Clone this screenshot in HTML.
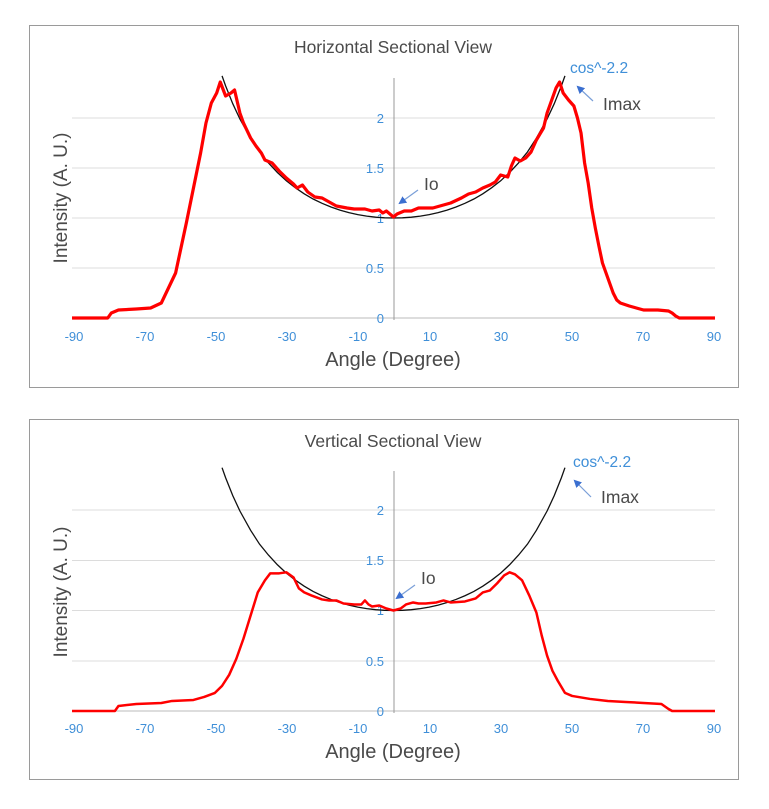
<!DOCTYPE html>
<html><head><meta charset="utf-8"><style>
html,body{margin:0;padding:0;background:#fff;}
svg{display:block;font-family:"Liberation Sans",sans-serif;}
.t{fill:#4a4a4a;}
.b{fill:#3f8fd8;font-size:13px;}
</style></head><body>
<svg width="769" height="809" viewBox="0 0 769 809">
<defs>
<marker id="ar" markerWidth="8" markerHeight="8" refX="6" refY="4" orient="auto" markerUnits="userSpaceOnUse">
<path d="M0,0 L8,4 L0,8 z" fill="#3b6fd0"/></marker>
</defs>

<!-- TOP PANEL -->
<rect x="29.5" y="25.5" width="709" height="362" fill="#fff" stroke="#9a9a9a"/>
<g stroke="#dcdcdc" stroke-width="1">
<line x1="72" y1="118" x2="715" y2="118"/><line x1="72" y1="168" x2="715" y2="168"/>
<line x1="72" y1="218" x2="715" y2="218"/><line x1="72" y1="268" x2="715" y2="268"/>
</g>
<line x1="72" y1="318" x2="715" y2="318" stroke="#bbb"/>
<line x1="394" y1="78" x2="394" y2="320" stroke="#999"/>
<text x="393" y="53" text-anchor="middle" class="t" font-size="17.5">Horizontal Sectional View</text>
<g class="b" text-anchor="end">
<text x="384" y="123">2</text><text x="384" y="173">1.5</text><text x="384" y="223">1</text>
<text x="384" y="273">0.5</text><text x="384" y="323">0</text></g>
<g class="b" text-anchor="middle">
<text x="74" y="341">-90</text><text x="145" y="341">-70</text><text x="216" y="341">-50</text>
<text x="287" y="341">-30</text><text x="358" y="341">-10</text><text x="430" y="341">10</text>
<text x="501" y="341">30</text><text x="572" y="341">50</text><text x="643" y="341">70</text><text x="714" y="341">90</text></g>
<text x="393" y="366" text-anchor="middle" class="t" font-size="20">Angle (Degree)</text>
<text transform="translate(67,198) rotate(-90)" text-anchor="middle" class="t" font-size="19">Intensity (A. U.)</text>
<g transform="translate(393.5,318) scale(3.572,-100)" fill="none">
<polyline vector-effect="non-scaling-stroke" stroke="#111" stroke-width="1.3" points="-48,2.421 -47,2.321 -45,2.143 -43,1.99 -40,1.798 -37.5,1.66 -35,1.551 -32.5,1.455 -30,1.372 -27.5,1.303 -25,1.242 -22.5,1.19 -20,1.147 -17.5,1.11 -15,1.079 -12.5,1.054 -10,1.034 -7.5,1.019 -5,1.008 -2.5,1.002 0,1 2.5,1.002 5,1.008 7.5,1.019 10,1.034 12.5,1.054 15,1.079 17.5,1.11 20,1.147 22.5,1.19 25,1.242 27.5,1.303 30,1.372 32.5,1.455 35,1.551 37.5,1.66 40,1.798 43,1.99 45,2.143 47,2.321 48,2.421"/>
<polyline vector-effect="non-scaling-stroke" stroke="#f00" stroke-width="3.2" stroke-linejoin="round" points="-90,0 -80,0 -79,0.05 -77,0.08 -72,0.09 -68,0.1 -65,0.15 -63,0.3 -61,0.45 -59.5,0.7 -58,0.95 -56,1.3 -54,1.65 -52.5,1.95 -51,2.15 -49.5,2.25 -48.5,2.36 -47,2.22 -45.5,2.25 -44.5,2.28 -43,2.05 -42,1.95 -40,1.8 -38.5,1.72 -37,1.65 -36,1.58 -34,1.55 -32,1.47 -30,1.4 -28,1.34 -27,1.3 -25.5,1.33 -24,1.26 -22,1.21 -20,1.2 -18,1.16 -16,1.12 -13,1.1 -11,1.09 -8,1.09 -6,1.07 -4,1.08 -3,1.05 -2,1.07 0,1.01 1,1.04 3,1.07 5,1.07 7,1.1 9,1.1 11,1.1 13,1.12 16,1.15 19,1.2 21,1.24 23,1.26 25,1.3 27,1.33 28.5,1.36 30,1.43 31,1.42 32,1.41 33,1.52 34,1.6 35.5,1.57 37,1.6 38.5,1.66 40,1.78 42,1.9 43,2.05 44,2.15 45.5,2.3 46.5,2.36 47.5,2.25 49,2.18 50.5,2.12 51.5,2.0 52.5,1.85 53.5,1.55 54.5,1.35 55.5,1.1 56.5,0.9 57.5,0.72 58.5,0.55 59.5,0.45 60.5,0.35 61.5,0.25 62.5,0.18 63.5,0.15 66,0.12 70,0.08 74,0.08 77,0.07 78,0.05 79,0.02 80,0 90,0"/>
</g>
<text x="570" y="73" style="fill:#3f8fd8" font-size="15.5">cos^-2.2</text>
<text x="603" y="110" class="t" font-size="17.5">Imax</text>
<line x1="593" y1="101" x2="578" y2="87" stroke="#7a9fd8" stroke-width="1.2" marker-end="url(#ar)"/>
<text x="424" y="190" class="t" font-size="17.5">Io</text>
<line x1="418" y1="190" x2="400" y2="203" stroke="#7a9fd8" stroke-width="1.2" marker-end="url(#ar)"/>

<!-- BOTTOM PANEL -->
<rect x="29.5" y="419.5" width="709" height="360" fill="#fff" stroke="#9a9a9a"/>
<g stroke="#dcdcdc" stroke-width="1">
<line x1="72" y1="510" x2="715" y2="510"/><line x1="72" y1="560.5" x2="715" y2="560.5"/>
<line x1="72" y1="610.5" x2="715" y2="610.5"/><line x1="72" y1="661" x2="715" y2="661"/>
</g>
<line x1="72" y1="711" x2="715" y2="711" stroke="#bbb"/>
<line x1="394" y1="471" x2="394" y2="713" stroke="#999"/>
<text x="393" y="447" text-anchor="middle" class="t" font-size="17.5">Vertical Sectional View</text>
<g class="b" text-anchor="end">
<text x="384" y="515">2</text><text x="384" y="565">1.5</text><text x="384" y="615">1</text>
<text x="384" y="666">0.5</text><text x="384" y="716">0</text></g>
<g class="b" text-anchor="middle">
<text x="74" y="733">-90</text><text x="145" y="733">-70</text><text x="216" y="733">-50</text>
<text x="287" y="733">-30</text><text x="358" y="733">-10</text><text x="430" y="733">10</text>
<text x="501" y="733">30</text><text x="572" y="733">50</text><text x="643" y="733">70</text><text x="714" y="733">90</text></g>
<text x="393" y="758" text-anchor="middle" class="t" font-size="20">Angle (Degree)</text>
<text transform="translate(67,592) rotate(-90)" text-anchor="middle" class="t" font-size="19">Intensity (A. U.)</text>
<g transform="translate(393.5,711) scale(3.572,-100.5)" fill="none">
<polyline vector-effect="non-scaling-stroke" stroke="#111" stroke-width="1.3" points="-48,2.421 -47,2.321 -45,2.143 -43,1.99 -40,1.798 -37.5,1.66 -35,1.551 -32.5,1.455 -30,1.372 -27.5,1.303 -25,1.242 -22.5,1.19 -20,1.147 -17.5,1.11 -15,1.079 -12.5,1.054 -10,1.034 -7.5,1.019 -5,1.008 -2.5,1.002 0,1 2.5,1.002 5,1.008 7.5,1.019 10,1.034 12.5,1.054 15,1.079 17.5,1.11 20,1.147 22.5,1.19 25,1.242 27.5,1.303 30,1.372 32.5,1.455 35,1.551 37.5,1.66 40,1.798 43,1.99 45,2.143 47,2.321 48,2.421"/>
<polyline vector-effect="non-scaling-stroke" stroke="#f00" stroke-width="2.5" stroke-linejoin="round" points="-90,0 -78,0 -77,0.05 -72,0.07 -65,0.08 -62,0.1 -56,0.11 -53,0.14 -50,0.18 -48,0.25 -46,0.36 -44,0.52 -42,0.72 -40,0.95 -38,1.18 -36,1.3 -34.5,1.37 -32,1.37 -30,1.38 -28,1.33 -26.5,1.22 -25,1.18 -23,1.15 -20,1.11 -18,1.1 -16,1.1 -14,1.07 -11,1.06 -9,1.06 -8,1.1 -7,1.06 -6,1.04 -4,1.05 -2,1.02 0,1.0 2,1.02 3.5,1.06 5.5,1.08 7,1.07 9,1.07 12,1.08 14,1.1 16,1.08 20,1.09 23,1.12 25,1.18 27,1.2 29,1.27 31,1.35 32.5,1.38 34,1.36 36,1.3 38,1.15 40,0.98 41.5,0.75 43,0.55 44.5,0.4 46,0.3 48,0.18 50,0.15 55,0.12 60,0.1 65,0.09 70,0.08 75,0.07 77,0.02 78,0 90,0"/>
</g>
<text x="573" y="467" style="fill:#3f8fd8" font-size="15.5">cos^-2.2</text>
<text x="601" y="503" class="t" font-size="17.5">Imax</text>
<line x1="591" y1="497" x2="575" y2="481" stroke="#7a9fd8" stroke-width="1.2" marker-end="url(#ar)"/>
<text x="421" y="584" class="t" font-size="17.5">Io</text>
<line x1="415" y1="585" x2="397" y2="598" stroke="#7a9fd8" stroke-width="1.2" marker-end="url(#ar)"/>
</svg>
</body></html>
